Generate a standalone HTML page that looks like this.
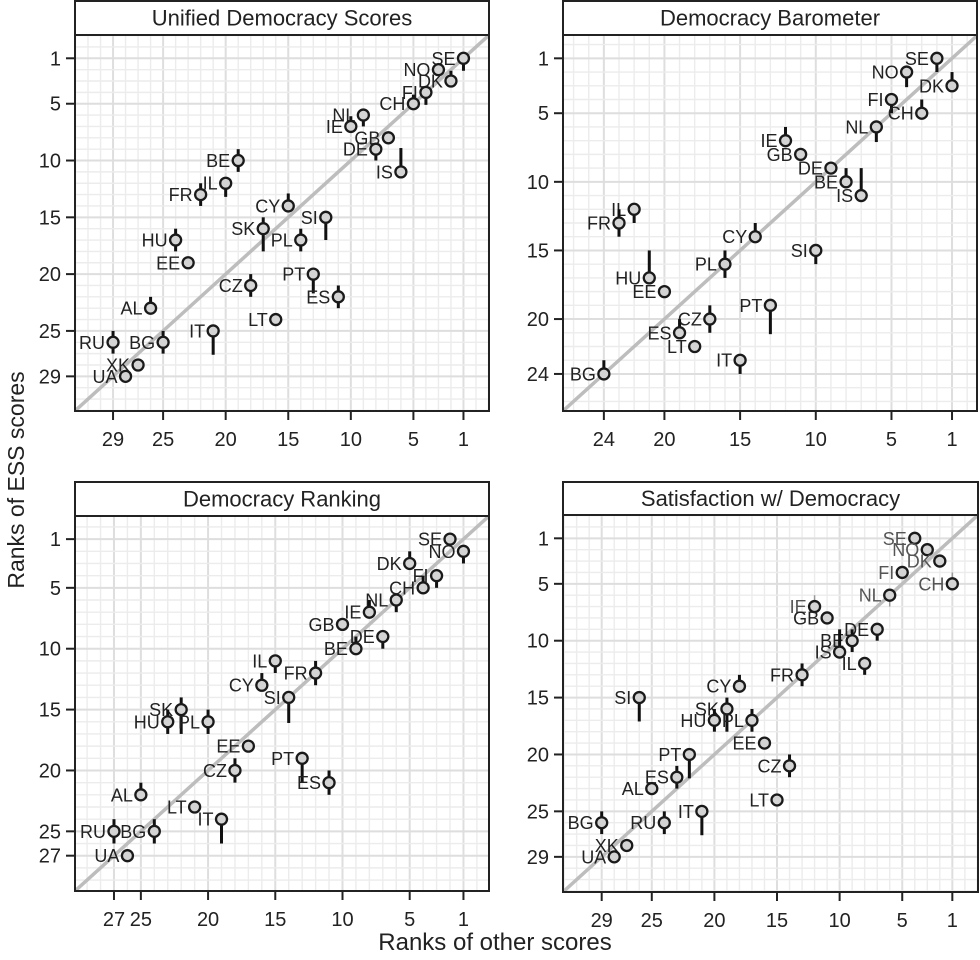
<!DOCTYPE html>
<html><head><meta charset="utf-8"><style>
html,body{margin:0;padding:0;background:#fff;width:980px;height:960px;overflow:hidden;}
svg{display:block;font-family:"Liberation Sans",Arial,sans-serif;}
</style></head><body>
<svg id="chart" width="980" height="960" viewBox="0 0 980 960" xmlns="http://www.w3.org/2000/svg">
<text x="495" y="950" font-size="24" text-anchor="middle" fill="#222">Ranks of other scores</text>
<text transform="translate(24,480) rotate(-90)" font-size="23" text-anchor="middle" fill="#222">Ranks of ESS scores</text>
</svg>
<script>
// Panel 1: Unified Democracy Scores
const p1Countries = ["SE","NO","DK","FI","CH","NL","IE","GB","DE","IS","BE","IL","FR","CY","SI","SK","PL","HU","EE","PT","CZ","ES","AL","LT","IT","RU","BG","XK","UA"];
const p1Other = [1,3,2,4,5,9,10,7,8,6,19,20,22,15,12,17,14,24,23,13,18,11,26,16,21,29,25,27,28];
const p1Ess = [1,2,3,4,5,6,7,8,9,11,10,12,13,14,15,16,17,17,19,20,21,22,23,24,25,26,26,28,29];
const p1StemLo = [1,2,2.1,3.6,4.2,6,6.1,8,9,8.9,9,12,12,12.9,15,15,16,16,19,20,20,21,22,24,25,25,25,28,29];
const p1StemHi = [2.1,2,3,5.1,5,7,7,8,10,11,11,13.2,14,14,17,18,18,18,19,21.7,22,23,23,24,27.1,27,27,28,29];
const p1XTicks = [29,25,20,15,10,5,1];
const p1YTicks = [1,5,10,15,20,25,29];

// Panel 2: Democracy Barometer
const p2Countries = ["SE","NO","DK","FI","CH","NL","IE","GB","DE","BE","IS","IL","FR","CY","SI","PL","HU","EE","PT","CZ","ES","LT","IT","BG"];
const p2Other = [2,4,1,5,3,6,12,11,9,8,7,22,23,14,10,16,21,20,13,17,19,18,15,24];
const p2Ess = [1,2,3,4,5,6,7,8,9,10,11,12,13,14,15,16,17,18,19,20,21,22,23,24];
const p2StemLo = [1,2,2,4,4,6,6,8,9,9,9,12,12,13,15,15,15,18,19,19,20,22,23,23];
const p2StemHi = [2,3.1,3,5,5,7.1,7,8,9,10,11,13,14,14,16,17,17,18,21.1,21,21,22,24,24];
const p2XTicks = [24,20,15,10,5,1];
const p2YTicks = [1,5,10,15,20,24];

// Panel 3: Democracy Ranking
const p3Countries = ["SE","NO","DK","FI","CH","NL","IE","GB","DE","BE","IL","FR","CY","SI","SK","HU","PL","EE","PT","CZ","ES","AL","LT","IT","RU","BG","UA"];
const p3Other = [2,1,5,3,4,6,8,10,7,9,15,12,16,14,22,23,20,17,13,18,11,25,21,19,27,24,26];
const p3Ess = [1,2,3,4,5,6,7,8,9,10,11,12,13,14,15,16,16,18,19,20,21,22,23,24,25,25,27];
const p3StemLo = [1,2,2,4,4,6,6,8,9,9,11,11,12,14,14,15,15,18,19,19,20,21,23,24,24,24,27];
const p3StemHi = [1,3,3,5,5,7,7,8,10,10,12,13,13,16.1,17,17,17,18,21,21,22,22,23,26,26,26,27];
const p3XTicks = [27,25,20,15,10,5,1];
const p3YTicks = [1,5,10,15,20,25,27];

// Panel 4: Satisfaction w/ Democracy
const p4Countries = ["SE","NO","DK","FI","CH","NL","IE","GB","DE","BE","IS","IL","FR","CY","SI","SK","HU","PL","EE","PT","CZ","ES","AL","LT","IT","BG","RU","XK","UA"];
const p4Other = [4,3,2,5,1,6,12,11,7,9,10,8,13,18,26,19,20,17,16,22,14,23,25,15,21,29,24,27,28];
const p4Ess = [1,2,3,4,5,6,7,8,9,10,11,12,13,14,15,16,17,17,19,20,21,22,23,24,25,26,26,28,29];
const p4StemLo = [1,2,3,4,4,6,6,8,9,9,9,12,12,13,15,15,16,16,19,20,20,21,23,24,25,25,25,28,29];
const p4StemHi = [1,2,3,4,5,7,7,8,10,11,11,13,14,14,17.1,18,18,18,19,22.1,22,23,23,24,27.1,27,27,28,29];
const p4XTicks = [29,25,20,15,10,5,1];
const p4YTicks = [1,5,10,15,20,25,29];

const NS = "http://www.w3.org/2000/svg";
const svg = document.getElementById("chart");
function mk(tag, attrs, parent) {
  const e = document.createElementNS(NS, tag);
  for (const k in attrs) e.setAttribute(k, attrs[k]);
  (parent || svg).appendChild(e);
  return e;
}

const panels = [
  {id:"uds", title:"Unified Democracy Scores", x0:75, x1:489, y0:35, y1:411, ty:0, xd:[32.04,-1.04], yd:[-1.05,32.05],
   c:p1Countries, xo:p1Other, ye:p1Ess, lo:p1StemLo, hi:p1StemHi, xt:p1XTicks, yt:p1YTicks, grey:false},
  {id:"barometer", title:"Democracy Barometer", x0:563, x1:977, y0:35, y1:411, ty:0, xd:[26.7,-0.65], yd:[-0.7,26.7],
   c:p2Countries, xo:p2Other, ye:p2Ess, lo:p2StemLo, hi:p2StemHi, xt:p2XTicks, yt:p2YTicks, grey:false},
  {id:"ranking", title:"Democracy Ranking", x0:75, x1:489, y0:516, y1:891, ty:481, xd:[29.9,-0.9], yd:[-0.9,29.9],
   c:p3Countries, xo:p3Other, ye:p3Ess, lo:p3StemLo, hi:p3StemHi, xt:p3XTicks, yt:p3YTicks, grey:false},
  {id:"satisfaction", title:"Satisfaction w/ Democracy", x0:563, x1:978, y0:515, y1:892, ty:481, xd:[32.09,-1.05], yd:[-1.05,32.09],
   c:p4Countries, xo:p4Other, ye:p4Ess, lo:p4StemLo, hi:p4StemHi, xt:p4XTicks, yt:p4YTicks, grey:true}
];

panels.forEach((p, pi) => {
  const g = mk("g", {});
  
  
  const sx = v => p.x0 + (v - p.xd[0]) / (p.xd[1] - p.xd[0]) * (p.x1 - p.x0);
  const sy = v => p.y0 + (v - p.yd[0]) / (p.yd[1] - p.yd[0]) * (p.y1 - p.y0);

  const clipId = "clip" + pi;
  const cp = mk("clipPath", {id: clipId}, g);
  mk("rect", {x:p.x0, y:p.y0, width:p.x1-p.x0, height:p.y1-p.y0}, cp);

  const grid = mk("g", {"clip-path":"url(#"+clipId+")"}, g);
  
  
  const xmin = Math.ceil(Math.min(p.xd[0], p.xd[1])), xmax = Math.floor(Math.max(p.xd[0], p.xd[1]));
  for (let v = xmin; v <= xmax; v++) {
    const major = p.xt.indexOf(v) >= 0;
    mk("line", {x1:sx(v), x2:sx(v), y1:p.y0, y2:p.y1, stroke: major ? "#dedede" : "#ececec", "stroke-width": major ? 2 : 1.4}, grid);
  }
  const ymin = Math.ceil(Math.min(p.yd[0], p.yd[1])), ymax = Math.floor(Math.max(p.yd[0], p.yd[1]));
  for (let v = ymin; v <= ymax; v++) {
    const major = p.yt.indexOf(v) >= 0;
    mk("line", {x1:p.x0, x2:p.x1, y1:sy(v), y2:sy(v), stroke: major ? "#dedede" : "#ececec", "stroke-width": major ? 2 : 1.4}, grid);
  }

  const lo = -5, hi = 40;
  const diag = mk("line", {x1:sx(lo), y1:sy(lo), x2:sx(hi), y2:sy(hi), stroke:"#bdbdbd", "stroke-width":3.5, "clip-path":"url(#"+clipId+")"}, g);
  
  

  p.c.forEach((name, i) => {
    const pg = mk("g", {}, g);
    
    
    const cx = sx(p.xo[i]), cy = sy(p.ye[i]);
    const thin = p.grey && i < 7;
    if (p.hi[i] - p.lo[i] > 0.01) {
      const st = mk("line", {x1:cx, x2:cx, y1:sy(p.lo[i]), y2:sy(p.hi[i]), stroke: thin ? "#999" : "#111", "stroke-width": thin ? 1.5 : 3}, pg);
      
      
    }
    mk("circle", {cx:cx, cy:cy, r:5.5, fill:"#d4d4d4", stroke:"#1a1a1a", "stroke-width":2.3}, pg);
    const t = mk("text", {x:cx-8, y:cy+6.5, "font-size":18, "text-anchor":"end", fill: thin ? "#555" : "#222"}, pg);
    t.textContent = name;
  });

  mk("rect", {x:p.x0, y:p.y0, width:p.x1-p.x0, height:p.y1-p.y0, fill:"none", stroke:"#222", "stroke-width":2}, g);
  const strip = mk("rect", {x:p.x0, y:p.ty+1, width:p.x1-p.x0, height:p.y0-p.ty-1, fill:"#fff", stroke:"#222", "stroke-width":2}, g);
  
  
  const tt = mk("text", {x:(p.x0+p.x1)/2, y:p.ty+(p.y0-p.ty)/2+8, "font-size":22, "text-anchor":"middle", fill:"#222"}, g);
  
  
  tt.textContent = p.title;

  p.xt.forEach(v => {
    const x = sx(v);
    mk("line", {x1:x, x2:x, y1:p.y1, y2:p.y1+9, stroke:"#222", "stroke-width":2}, g);
    const t = mk("text", {x:x, y:p.y1+35, "font-size":20, "text-anchor":"middle", fill:"#222"}, g);
    
    
    t.textContent = v;
  });
  p.yt.forEach(v => {
    const y = sy(v);
    mk("line", {x1:p.x0-9, x2:p.x0, y1:y, y2:y, stroke:"#222", "stroke-width":2}, g);
    const t = mk("text", {x:p.x0-14, y:y+7, "font-size":20, "text-anchor":"end", fill:"#222"}, g);
    
    
    t.textContent = v;
  });
});
</script>
</body></html>
